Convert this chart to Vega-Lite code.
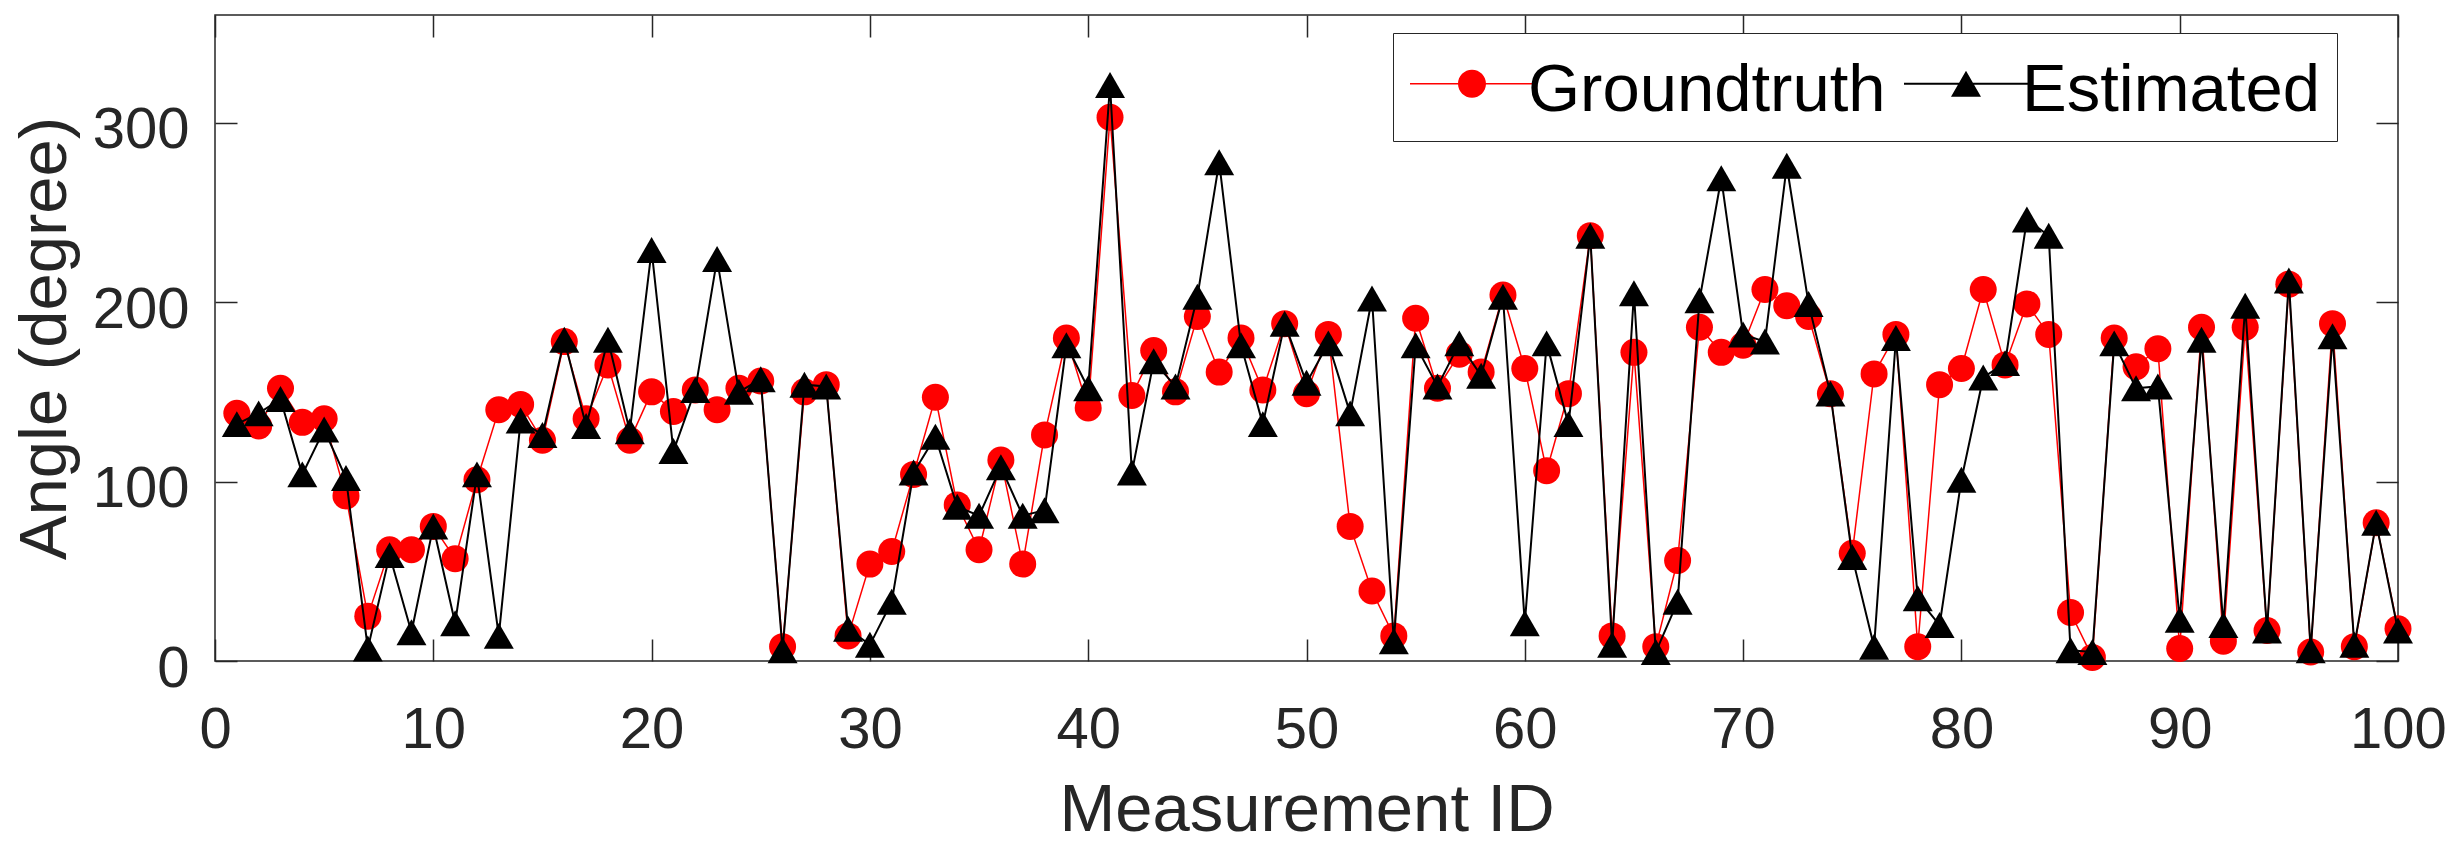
{
  "$schema": "https://vega.github.io/schema/vega-lite/v6.json",
  "width": 2183,
  "height": 646,
  "autosize": "none",
  "padding": {"left": 215, "top": 15, "right": 50, "bottom": 184},
  "background": "white",
  "config": {
    "view": {"stroke": "#262626", "strokeWidth": 1.5},
    "font": "Liberation Sans",
    "axis": {
      "domain": false,
      "grid": false,
      "tickColor": "#262626",
      "tickWidth": 1.5,
      "tickSize": -22,
      "labelFont": "Liberation Sans",
      "labelFontSize": 58,
      "labelColor": "#262626",
      "titleFont": "Liberation Sans",
      "titleFontSize": 67,
      "titleFontWeight": "normal",
      "titleColor": "#262626"
    }
  },
  "data": {
    "values": [
      {"id": 1, "Groundtruth": 138, "Estimated": 132},
      {"id": 2, "Groundtruth": 131, "Estimated": 138},
      {"id": 3, "Groundtruth": 152, "Estimated": 146},
      {"id": 4, "Groundtruth": 133, "Estimated": 104},
      {"id": 5, "Groundtruth": 135, "Estimated": 129},
      {"id": 6, "Groundtruth": 92, "Estimated": 102},
      {"id": 7, "Groundtruth": 25, "Estimated": 7},
      {"id": 8, "Groundtruth": 62, "Estimated": 59},
      {"id": 9, "Groundtruth": 62, "Estimated": 16},
      {"id": 10, "Groundtruth": 75, "Estimated": 75},
      {"id": 11, "Groundtruth": 57, "Estimated": 21},
      {"id": 12, "Groundtruth": 101, "Estimated": 104},
      {"id": 13, "Groundtruth": 140, "Estimated": 14},
      {"id": 14, "Groundtruth": 143, "Estimated": 134},
      {"id": 15, "Groundtruth": 123, "Estimated": 126},
      {"id": 16, "Groundtruth": 178, "Estimated": 179},
      {"id": 17, "Groundtruth": 135, "Estimated": 131},
      {"id": 18, "Groundtruth": 165, "Estimated": 179},
      {"id": 19, "Groundtruth": 123, "Estimated": 128},
      {"id": 20, "Groundtruth": 150, "Estimated": 229},
      {"id": 21, "Groundtruth": 139, "Estimated": 117},
      {"id": 22, "Groundtruth": 151, "Estimated": 151},
      {"id": 23, "Groundtruth": 140, "Estimated": 224},
      {"id": 24, "Groundtruth": 152, "Estimated": 150},
      {"id": 25, "Groundtruth": 156, "Estimated": 157},
      {"id": 26, "Groundtruth": 8, "Estimated": 6},
      {"id": 27, "Groundtruth": 150, "Estimated": 154},
      {"id": 28, "Groundtruth": 154, "Estimated": 153},
      {"id": 29, "Groundtruth": 14, "Estimated": 18},
      {"id": 30, "Groundtruth": 54, "Estimated": 9},
      {"id": 31, "Groundtruth": 61, "Estimated": 33},
      {"id": 32, "Groundtruth": 104, "Estimated": 105},
      {"id": 33, "Groundtruth": 147, "Estimated": 125},
      {"id": 34, "Groundtruth": 87, "Estimated": 86},
      {"id": 35, "Groundtruth": 62, "Estimated": 81},
      {"id": 36, "Groundtruth": 112, "Estimated": 108},
      {"id": 37, "Groundtruth": 54, "Estimated": 81},
      {"id": 38, "Groundtruth": 126, "Estimated": 84},
      {"id": 39, "Groundtruth": 180, "Estimated": 176},
      {"id": 40, "Groundtruth": 141, "Estimated": 152},
      {"id": 41, "Groundtruth": 303, "Estimated": 321},
      {"id": 42, "Groundtruth": 148, "Estimated": 105},
      {"id": 43, "Groundtruth": 173, "Estimated": 167},
      {"id": 44, "Groundtruth": 150, "Estimated": 153},
      {"id": 45, "Groundtruth": 192, "Estimated": 203},
      {"id": 46, "Groundtruth": 161, "Estimated": 278},
      {"id": 47, "Groundtruth": 180, "Estimated": 176},
      {"id": 48, "Groundtruth": 151, "Estimated": 132},
      {"id": 49, "Groundtruth": 188, "Estimated": 188},
      {"id": 50, "Groundtruth": 149, "Estimated": 155},
      {"id": 51, "Groundtruth": 182, "Estimated": 177},
      {"id": 52, "Groundtruth": 75, "Estimated": 138},
      {"id": 53, "Groundtruth": 39, "Estimated": 202},
      {"id": 54, "Groundtruth": 14, "Estimated": 11},
      {"id": 55, "Groundtruth": 191, "Estimated": 176},
      {"id": 56, "Groundtruth": 152, "Estimated": 153},
      {"id": 57, "Groundtruth": 171, "Estimated": 177},
      {"id": 58, "Groundtruth": 161, "Estimated": 159},
      {"id": 59, "Groundtruth": 204, "Estimated": 203},
      {"id": 60, "Groundtruth": 163, "Estimated": 21},
      {"id": 61, "Groundtruth": 106, "Estimated": 177},
      {"id": 62, "Groundtruth": 149, "Estimated": 132},
      {"id": 63, "Groundtruth": 237, "Estimated": 237},
      {"id": 64, "Groundtruth": 14, "Estimated": 9},
      {"id": 65, "Groundtruth": 172, "Estimated": 205},
      {"id": 66, "Groundtruth": 8, "Estimated": 5},
      {"id": 67, "Groundtruth": 56, "Estimated": 33},
      {"id": 68, "Groundtruth": 186, "Estimated": 201},
      {"id": 69, "Groundtruth": 172, "Estimated": 269},
      {"id": 70, "Groundtruth": 176, "Estimated": 182},
      {"id": 71, "Groundtruth": 207, "Estimated": 178},
      {"id": 72, "Groundtruth": 198, "Estimated": 276},
      {"id": 73, "Groundtruth": 192, "Estimated": 199},
      {"id": 74, "Groundtruth": 149, "Estimated": 149},
      {"id": 75, "Groundtruth": 60, "Estimated": 58},
      {"id": 76, "Groundtruth": 160, "Estimated": 8},
      {"id": 77, "Groundtruth": 182, "Estimated": 180},
      {"id": 78, "Groundtruth": 8, "Estimated": 35},
      {"id": 79, "Groundtruth": 154, "Estimated": 20},
      {"id": 80, "Groundtruth": 163, "Estimated": 101},
      {"id": 81, "Groundtruth": 207, "Estimated": 158},
      {"id": 82, "Groundtruth": 165, "Estimated": 166},
      {"id": 83, "Groundtruth": 199, "Estimated": 246},
      {"id": 84, "Groundtruth": 182, "Estimated": 237},
      {"id": 85, "Groundtruth": 27, "Estimated": 6},
      {"id": 86, "Groundtruth": 2, "Estimated": 5},
      {"id": 87, "Groundtruth": 180, "Estimated": 177},
      {"id": 88, "Groundtruth": 164, "Estimated": 152},
      {"id": 89, "Groundtruth": 174, "Estimated": 153},
      {"id": 90, "Groundtruth": 7, "Estimated": 23},
      {"id": 91, "Groundtruth": 186, "Estimated": 179},
      {"id": 92, "Groundtruth": 11, "Estimated": 20},
      {"id": 93, "Groundtruth": 186, "Estimated": 198},
      {"id": 94, "Groundtruth": 17, "Estimated": 17},
      {"id": 95, "Groundtruth": 210, "Estimated": 212},
      {"id": 96, "Groundtruth": 5, "Estimated": 6},
      {"id": 97, "Groundtruth": 188, "Estimated": 181},
      {"id": 98, "Groundtruth": 8, "Estimated": 9},
      {"id": 99, "Groundtruth": 77, "Estimated": 77},
      {"id": 100, "Groundtruth": 18, "Estimated": 17}
    ]
  },
  "layer": [
    {
      "mark": {"type": "line", "color": "#ff0000", "strokeWidth": 1.5},
      "encoding": {
        "x": {"field": "id", "type": "quantitative", "scale": {"domain": [0, 100], "nice": false},
              "axis": {"values": [0, 10, 20, 30, 40, 50, 60, 70, 80, 90, 100], "title": "Measurement ID",
                       "labelBaseline": "alphabetic", "labelPadding": 108, "labelFlush": false,
                       "titleBaseline": "alphabetic", "titleY": 169}},
        "y": {"field": "Groundtruth", "type": "quantitative", "scale": {"domain": [0, 360], "nice": false},
              "axis": {"values": [0, 100, 200, 300], "title": "Angle (degree)", "labelPadding": 48,
                       "labelBaseline": "alphabetic", "labelOffset": 25, "titlePadding": 13}}
      }
    },
    {
      "mark": {"type": "point", "shape": "circle", "filled": true, "color": "#ff0000", "size": 729, "opacity": 1},
      "encoding": {
        "x": {"field": "id", "type": "quantitative", "axis": null},
        "y": {"field": "Groundtruth", "type": "quantitative", "axis": null}
      }
    },
    {
      "mark": {"type": "line", "color": "#000000", "strokeWidth": 2},
      "encoding": {
        "x": {"field": "id", "type": "quantitative",
              "axis": {"orient": "top", "values": [0, 10, 20, 30, 40, 50, 60, 70, 80, 90, 100], "labels": false, "title": null}},
        "y": {"field": "Estimated", "type": "quantitative",
              "axis": {"orient": "right", "values": [0, 100, 200, 300], "labels": false, "title": null}}
      }
    },
    {
      "mark": {"type": "point", "shape": "triangle-up", "filled": true, "color": "#000000", "size": 900, "opacity": 1},
      "encoding": {
        "x": {"field": "id", "type": "quantitative", "axis": null},
        "y": {"field": "Estimated", "type": "quantitative", "axis": null}
      }
    },
    {
      "transform": [
        {"fold": ["Groundtruth", "Estimated"], "as": ["series", "angle"]},
        {"filter": "datum.id < 0"}
      ],
      "mark": {"type": "point", "filled": true, "opacity": 1},
      "encoding": {
        "x": {"field": "id", "type": "quantitative", "axis": null},
        "y": {"field": "angle", "type": "quantitative", "axis": null},
        "color": {
          "field": "series", "type": "nominal",
          "scale": {"domain": ["Groundtruth", "Estimated"], "range": ["#ff0000", "#000000"]},
          "legend": {
            "title": null, "orient": "none", "legendX": 1178, "legendY": 18,
            "direction": "horizontal", "columns": 2,
            "symbolSize": 961, "symbolStrokeWidth": 0, "symbolOpacity": 1, "symbolOffset": -18,
            "labelFont": "Liberation Sans", "labelFontSize": 67, "labelColor": "#000000",
            "labelOffset": 69, "columnPadding": 18, "padding": 17, "labelLimit": 0,
            "strokeColor": "#262626", "fillColor": "white",
            "encode": {"labels": {"update": {"dy": {"value": 7}}}}
          }
        },
        "shape": {
          "field": "series", "type": "nominal",
          "scale": {"domain": ["Groundtruth", "Estimated"],
                    "range": ["M-1,-0.048H7V0.048H-1Z M3.903,0A0.903,0.903 0 1,1 2.097,0A0.903,0.903 0 1,1 3.903,0Z",
                              "M-1,-0.065H7V0.065H-1Z M3,-0.839L3.968,0.839H2.032Z"]}
        }
      }
    }
  ],
  "resolve": {"axis": {"x": "independent", "y": "independent"}}
}
